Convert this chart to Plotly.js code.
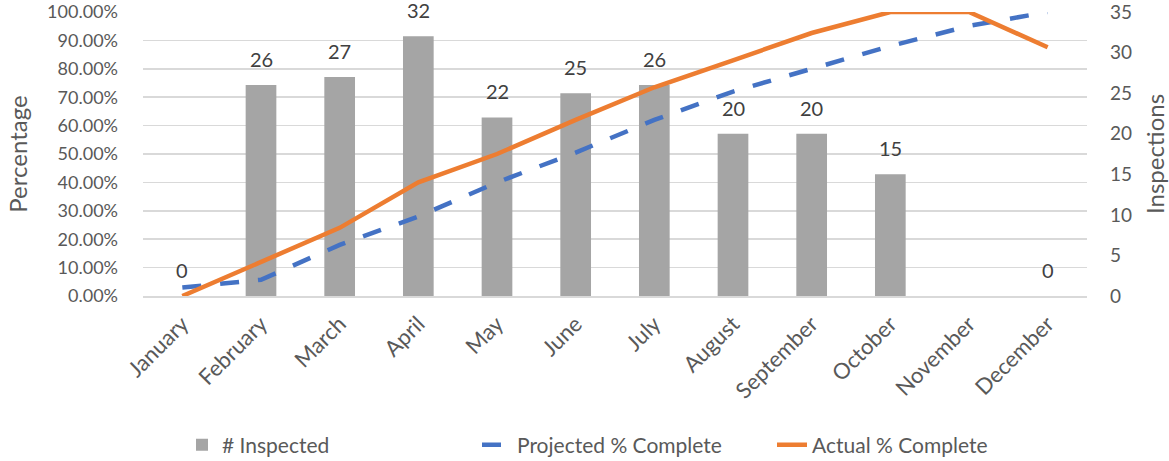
<!DOCTYPE html>
<html>
<head>
<meta charset="utf-8">
<script src="https://cdn.plot.ly/plotly-3.0.1.min.js"></script>
<style>
  html, body { margin: 0; padding: 0; background: #ffffff; }
  #chart { width: 1169px; height: 461px; }
</style>
</head>
<body>
<div id="chart"></div>
<script>
const months = ["January", "February", "March", "April", "May", "June", "July", "August", "September", "October", "November", "December"];
const inspected = [0, 26, 27, 32, 22, 25, 26, 20, 20, 15, null, 0];
const projected = [0.03, 0.057, 0.18, 0.28, 0.40, 0.505, 0.62, 0.72, 0.80, 0.88, 0.951, 1.0];
const actual = [0, 0.12, 0.24, 0.40, 0.50, 0.62, 0.735, 0.83, 0.926, 1.0, 1.0, 0.876];
const pctTicks = [0, 0.1, 0.2, 0.3, 0.4, 0.5, 0.6, 0.7, 0.8, 0.9, 1.0];
const countTicks = [0, 5, 10, 15, 20, 25, 30, 35];

const FONT = "Lato, 'Open Sans', sans-serif";
const TXT = "#595959";

const traces = [
  {
    type: "bar",
    name: "# Inspected",
    x: months,
    y: inspected,
    yaxis: "y",
    marker: { color: "#A5A5A5" },
    hoverinfo: "x+y"
  },
  {
    type: "scatter",
    mode: "lines",
    name: "Projected % Complete",
    x: months,
    y: projected,
    yaxis: "y2",
    line: { color: "#4472C4", width: 4.5, dash: "19px,19px" }
  },
  {
    type: "scatter",
    mode: "lines",
    name: "Actual % Complete",
    x: months,
    y: actual,
    yaxis: "y2",
    line: { color: "#ED7D31", width: 4.5 }
  }
];

const annotations = months.map((m, i) => inspected[i] === null ? null : ({
  x: m, y: inspected[i], xref: "x", yref: "y",
  text: String(inspected[i]),
  showarrow: false, yanchor: "bottom", yshift: 12,
  font: { family: FONT, size: 20, color: "#404040" }
})).filter(a => a !== null);

const layout = {
  width: 1169,
  height: 461,
  margin: { l: 143, r: 82, t: 12, b: 165 },
  paper_bgcolor: "#ffffff",
  plot_bgcolor: "#ffffff",
  font: { family: FONT, size: 19, color: TXT },
  showlegend: true,
  bargap: 0.61,
  xaxis: {
    type: "category",
    tickangle: -45,
    automargin: false,
    showgrid: false,
    showline: true,
    linecolor: "#D9D9D9",
    linewidth: 1.5,
    ticks: "",
    ticklabelstandoff: 5,
    tickfont: { family: FONT, size: 22, color: TXT },
    anchor: "y"
  },
  yaxis: {
    side: "right",
    range: [0, 35],
    automargin: false,
    tickvals: countTicks,
    ticktext: countTicks.map(String),
    showgrid: false,
    zeroline: false,
    ticks: "",
    ticklabelstandoff: 22,
    ticklabeloverflow: "allow",
    tickfont: { family: FONT, size: 19, color: TXT },
    title: { text: "Inspections", font: { family: FONT, size: 24, color: TXT }, standoff: 19 }
  },
  yaxis2: {
    overlaying: "y",
    side: "left",
    range: [0, 1],
    automargin: false,
    tickvals: pctTicks,
    ticktext: pctTicks.map(v => (v * 100).toFixed(2) + "%"),
    showgrid: true,
    gridcolor: "#D9D9D9",
    gridwidth: 1.5,
    zeroline: false,
    ticks: "",
    ticklabelstandoff: 24,
    ticklabeloverflow: "allow",
    tickfont: { family: FONT, size: 18, color: TXT },
    title: { text: "Percentage", font: { family: FONT, size: 24, color: TXT }, standoff: 12 }
  },
  legend: {
    orientation: "h",
    xref: "container",
    yref: "container",
    x: 182 / 1169,
    xanchor: "left",
    y: (461 - 445) / 461,
    yanchor: "middle",
    font: { family: FONT, size: 21, color: TXT },
    entrywidth: 250,
    entrywidthmode: "pixels",
    traceorder: "normal"
  },
  annotations: annotations
};

Plotly.newPlot("chart", traces, layout, { displayModeBar: false, staticPlot: true });
</script>
</body>
</html>
